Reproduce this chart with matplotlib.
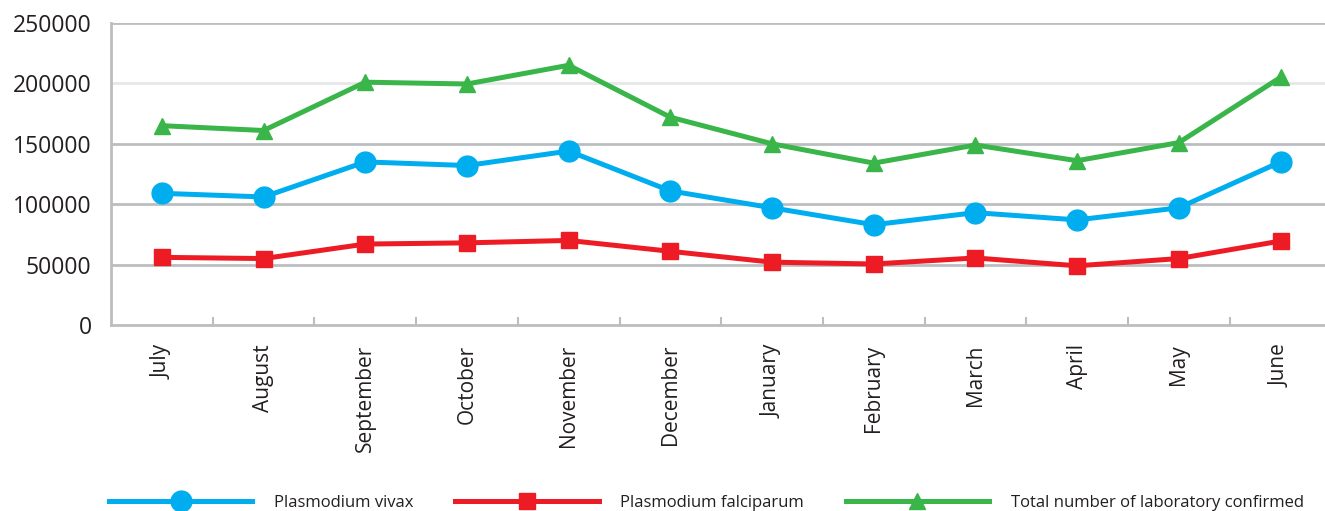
import matplotlib.pyplot as plt
import numpy as np

months = ["July", "August", "September", "October", "November", "December",
          "January", "February", "March", "April", "May", "June"]
vivax = [109000, 106000, 135000, 132000, 144000, 111000,
         97000, 83000, 93000, 87000, 97000, 135000]
falciparum = [56000, 55000, 67000, 68000, 70000, 61000,
              52000, 50500, 55500, 49000, 55000, 69500]
total = [165000, 161000, 201000, 199500, 215000, 172000,
         150000, 134000, 149000, 136000, 151000, 205000]

fig = plt.figure(figsize=(13.25, 5.11), dpi=100)
ax = fig.add_axes([0.0838, 0.364, 0.921, 0.591])

x = np.arange(len(months))
ax.plot(x, vivax, color="#00AEEF", lw=3.6, marker="o", ms=15,
        label="Plasmodium vivax", zorder=3)
ax.plot(x, falciparum, color="#ED1C24", lw=3.6, marker="s", ms=11,
        label="Plasmodium falciparum", zorder=3)
ax.plot(x, total, color="#39B54A", lw=3.6, marker="^", ms=12,
        label="Total number of laboratory confirmed", zorder=3)

ax.set_xlim(-0.5, 11.5)
ax.set_ylim(0, 250000)
ax.set_yticks(np.arange(0, 250001, 50000))
ax.set_xticks(x)
ax.set_xticklabels(months, rotation=90, fontsize=15, family="Open Sans")
ax.set_xticks(np.arange(0.5, 11, 1), minor=True)
ax.tick_params(axis="x", which="major", length=0, pad=14)
ax.tick_params(axis="x", which="minor", direction="in", length=6,
               width=1.5, color="#bcbdc0")
ax.tick_params(axis="y", length=0, pad=14, labelsize=16.5)
for lab in ax.get_yticklabels():
    lab.set_family("Open Sans")
    lab.set_color("#231f20")
for lab in ax.get_xticklabels():
    lab.set_color("#231f20")

for v in [50000, 100000, 150000, 250000]:
    ax.axhline(v, color="#bcbdc0", lw=2, zorder=1)
ax.axhline(200000, color="#e6e7e8", lw=2, zorder=1)

for s in ["top", "right"]:
    ax.spines[s].set_visible(False)
for s in ["left", "bottom"]:
    ax.spines[s].set_color("#bcbdc0")
    ax.spines[s].set_linewidth(2)

leg = fig.legend(loc="lower left", bbox_to_anchor=(0.071, -0.03), ncol=3,
                 frameon=False, handlelength=8.6, handletextpad=1.3,
                 columnspacing=2.5,
                 prop={"family": "Open Sans", "size": 12})
for t in leg.get_texts():
    t.set_color("#231f20")

fig.savefig("out.png", dpi=100)
